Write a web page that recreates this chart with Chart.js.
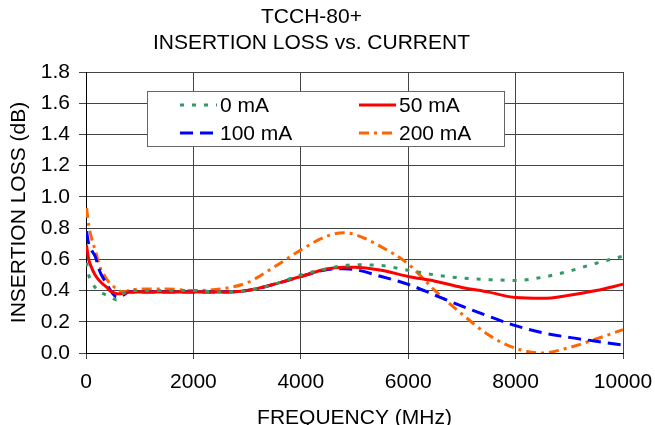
<!DOCTYPE html>
<html>
<head>
<meta charset="utf-8">
<script src="https://cdn.jsdelivr.net/npm/chart.js@4/dist/chart.umd.min.js"></script>
<style>
  html, body { margin: 0; padding: 0; background: #fff; }
  #wrap { width: 655px; height: 425px; }
</style>
</head>
<body>
<div id="wrap"><canvas id="myChart"></canvas></div>
<script>
// frequency points (MHz)
const freqs = [10, 50, 100, 170, 260, 320, 390, 440, 500, 570, 690, 800, 1000, 1500, 2000, 2500,
  3000, 3500, 4000, 4500, 4800, 5000, 5500, 6000, 6500, 7000, 7500, 8000, 8500, 9000, 9500, 10000];

// insertion loss (dB) per bias current
const loss0mA = [0.58, 0.50, 0.46, 0.42, 0.39, 0.38, 0.37, 0.36, 0.35, 0.34, 0.38, 0.40, 0.40, 0.40, 0.40, 0.39,
  0.40, 0.44, 0.50, 0.54, 0.56, 0.565, 0.56, 0.53, 0.50, 0.48, 0.47, 0.465, 0.485, 0.525, 0.575, 0.62];
const loss50mA = [0.69, 0.60, 0.55, 0.50, 0.46, 0.44, 0.42, 0.40, 0.39, 0.38, 0.38, 0.39, 0.39, 0.39, 0.39, 0.39,
  0.40, 0.44, 0.49, 0.54, 0.55, 0.55, 0.53, 0.49, 0.46, 0.42, 0.39, 0.355, 0.35, 0.37, 0.40, 0.44];
const loss100mA = [0.78, 0.70, 0.66, 0.62, 0.52, 0.48, 0.44, 0.41, 0.38, 0.36, 0.37, 0.39, 0.39, 0.39, 0.39, 0.39,
  0.40, 0.44, 0.49, 0.535, 0.54, 0.535, 0.49, 0.44, 0.37, 0.30, 0.235, 0.175, 0.13, 0.10, 0.075, 0.05];
const loss200mA = [0.93, 0.82, 0.74, 0.66, 0.55, 0.51, 0.47, 0.45, 0.43, 0.41, 0.39, 0.40, 0.41, 0.41, 0.40, 0.41,
  0.45, 0.55, 0.66, 0.75, 0.77, 0.76, 0.68, 0.57, 0.40, 0.25, 0.115, 0.03, 0.00, 0.035, 0.09, 0.15];

const seriesLabels = ["0 mA", "50 mA", "100 mA", "200 mA"];
const titleLines = ["TCCH-80+", "INSERTION LOSS vs. CURRENT"];
const xTitle = "FREQUENCY (MHz)";
const yTitle = "INSERTION LOSS (dB)";

const FONT = "'Liberation Sans', Arial, sans-serif";

function toPoints(values) {
  return freqs.map((f, i) => ({ x: f, y: values[i] }));
}

function makeDataset(label, values, color, dash) {
  return {
    label: label,
    data: toPoints(values),
    borderColor: color,
    backgroundColor: color,
    borderWidth: 3,
    borderDash: dash,
    pointRadius: 0,
    fill: false,
    cubicInterpolationMode: "monotone",
  };
}

// legend box drawn inside the plot like the original
const boxLegend = {
  id: "boxLegend",
  afterDraw(chart) {
    const ctx = chart.ctx;
    const box = { x: 147.5, y: 91.5, w: 357, h: 55 };
    ctx.save();
    ctx.fillStyle = "#fff";
    ctx.fillRect(box.x, box.y, box.w, box.h);
    ctx.strokeStyle = "#666";
    ctx.lineWidth = 1;
    ctx.strokeRect(box.x, box.y, box.w, box.h);
    const slots = [
      { x: 180, y: 105 },
      { x: 359, y: 105 },
      { x: 180, y: 133 },
      { x: 359, y: 133 },
    ];
    chart.data.datasets.forEach((ds, i) => {
      const s = slots[i];
      ctx.beginPath();
      ctx.setLineDash(ds.borderDash || []);
      ctx.strokeStyle = ds.borderColor;
      ctx.lineWidth = 3;
      ctx.moveTo(s.x, s.y);
      ctx.lineTo(s.x + 37, s.y);
      ctx.stroke();
      ctx.setLineDash([]);
      ctx.fillStyle = "#000";
      ctx.font = "21px " + FONT;
      ctx.textBaseline = "middle";
      ctx.textAlign = "left";
      ctx.fillText(ds.label, s.x + 40, s.y + 1);
    });
    ctx.restore();
  },
};

const chart = new Chart(document.querySelector("#myChart"), {
  type: "line",
  data: {
    datasets: [
      makeDataset(seriesLabels[0], loss0mA, "#339966", [4, 8]),
      makeDataset(seriesLabels[1], loss50mA, "#FF0000", []),
      makeDataset(seriesLabels[2], loss100mA, "#0000FF", [13, 7]),
      makeDataset(seriesLabels[3], loss200mA, "#FF6600", [10, 5, 3, 5]),
    ],
  },
  options: {
    responsive: true,
    maintainAspectRatio: false,
    animation: false,
    layout: { padding: { left: 0, right: 32, top: 0, bottom: 0 } },
    plugins: {
      legend: { display: false },
      tooltip: { enabled: false },
      title: {
        display: true,
        text: titleLines,
        color: "#000",
        font: { family: FONT, size: 21, weight: "normal", lineHeight: "26px" },
        padding: { top: 4, bottom: 16 },
      },
    },
    scales: {
      x: {
        type: "linear",
        min: 0,
        max: 10000,
        afterFit: (scale) => {
          scale.height = 72;
          scale.paddingLeft = 0;
          scale.paddingRight = 0;
        },
        ticks: {
          stepSize: 2000,
          color: "#000",
          font: { family: FONT, size: 21 },
          padding: 11,
          maxRotation: 0,
          callback: (v) => String(v),
        },
        grid: { color: "#444", lineWidth: 1, tickLength: 6 },
        border: { color: "#000", width: 1 },
        title: {
          display: true,
          text: xTitle,
          color: "#000",
          font: { family: FONT, size: 21, lineHeight: "14px" },
          padding: { top: 0, bottom: 0 },
        },
      },
      y: {
        min: 0,
        max: 1.8,
        afterFit: (scale) => { scale.width = 86; },
        ticks: {
          stepSize: 0.2,
          color: "#000",
          font: { family: FONT, size: 21 },
          padding: 9,
          callback: (v) => v.toFixed(1),
        },
        grid: { color: "#444", lineWidth: 1, tickLength: 7 },
        border: { color: "#000", width: 1 },
        title: {
          display: true,
          text: yTitle,
          color: "#000",
          font: { family: FONT, size: 21, lineHeight: 1.2 },
          padding: { top: 7, bottom: 0 },
        },
      },
    },
  },
  plugins: [boxLegend],
});
</script>
</body>
</html>
